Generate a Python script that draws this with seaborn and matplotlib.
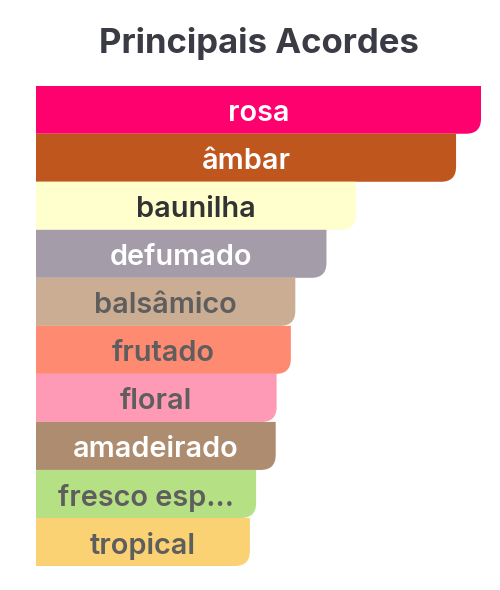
import numpy as np
import pandas as pd
import seaborn as sns
import matplotlib.pyplot as plt
from matplotlib.path import Path
from matplotlib.patches import PathPatch

# accords and their relative strength (percent of the strongest)
accords = ['rosa', 'âmbar', 'baunilha', 'defumado', 'balsâmico',
           'frutado', 'floral', 'amadeirado', 'fresco esp...', 'tropical']
strength = [100, 94.4, 71.9, 65.3, 58.3, 57.3, 54.1, 53.9, 49.5, 48.1]
bar_colors = ['#fe016f', '#bf561d', '#feffcd', '#a59caa', '#caad93',
              '#fe8a72', '#fe9ab5', '#ad8c6f', '#b5e083', '#fad274']
text_colors = ['#ffffff', '#ffffff', '#333333', '#ffffff', '#5e5e5e',
               '#5e5e5e', '#5e5e5e', '#ffffff', '#5e5e5e', '#5e5e5e']

df = pd.DataFrame({'accord': accords, 'strength': strength})

sns.set_style('white')
plt.rcParams['font.family'] = ['Inter', 'DejaVu Sans']

W, H = 500, 590
fig = plt.figure(figsize=(W / 100, H / 100), dpi=100)
left, right, top, bottom = 35.7, 481.0, 85.7, 566.0
ax = fig.add_axes([left / W, (H - bottom) / H, (right - left) / W, (bottom - top) / H])

sns.barplot(data=df, x='strength', y='accord', hue='accord', palette=bar_colors,
            width=1.0, orient='h', legend=False, ax=ax, saturation=1)
ax.set_xlim(0, 100)
ax.set_ylim(len(accords) - 0.5, -0.5)
ax.axis('off')

# swap the square bars for ones with a rounded bottom-right corner
r_px = 15
rx = r_px / ((right - left) / 100)
ry = r_px / ((bottom - top) / len(accords))
for bar, col in zip(list(ax.patches), bar_colors):
    x0, y0 = bar.get_x(), bar.get_y()
    w, h = bar.get_width(), bar.get_height()
    x1, y1 = x0 + w, y0 + h  # y1 is the visual bottom (inverted axis)
    verts = [(x0, y0), (x1, y0), (x1, y1 - ry), (x1, y1), (x1 - rx, y1),
             (x0, y1), (x0, y0)]
    codes = [Path.MOVETO, Path.LINETO, Path.LINETO, Path.CURVE3, Path.CURVE3,
             Path.LINETO, Path.CLOSEPOLY]
    bar.set_visible(False)
    ax.add_patch(PathPatch(Path(verts, codes), facecolor=col, edgecolor='none'))

for i, (name, val) in enumerate(zip(accords, strength)):
    ax.text(val / 2, i + 0.08, name, ha='center', va='center', fontsize=20.8,
            fontweight='semibold', color=text_colors[i])

fig.text(258.5 / W, 1 - 43 / H, 'Principais Acordes', ha='center', va='center',
         fontsize=25, fontweight='bold', color='#3b3b45')

fig.savefig('out.png', dpi=100, facecolor='white')
